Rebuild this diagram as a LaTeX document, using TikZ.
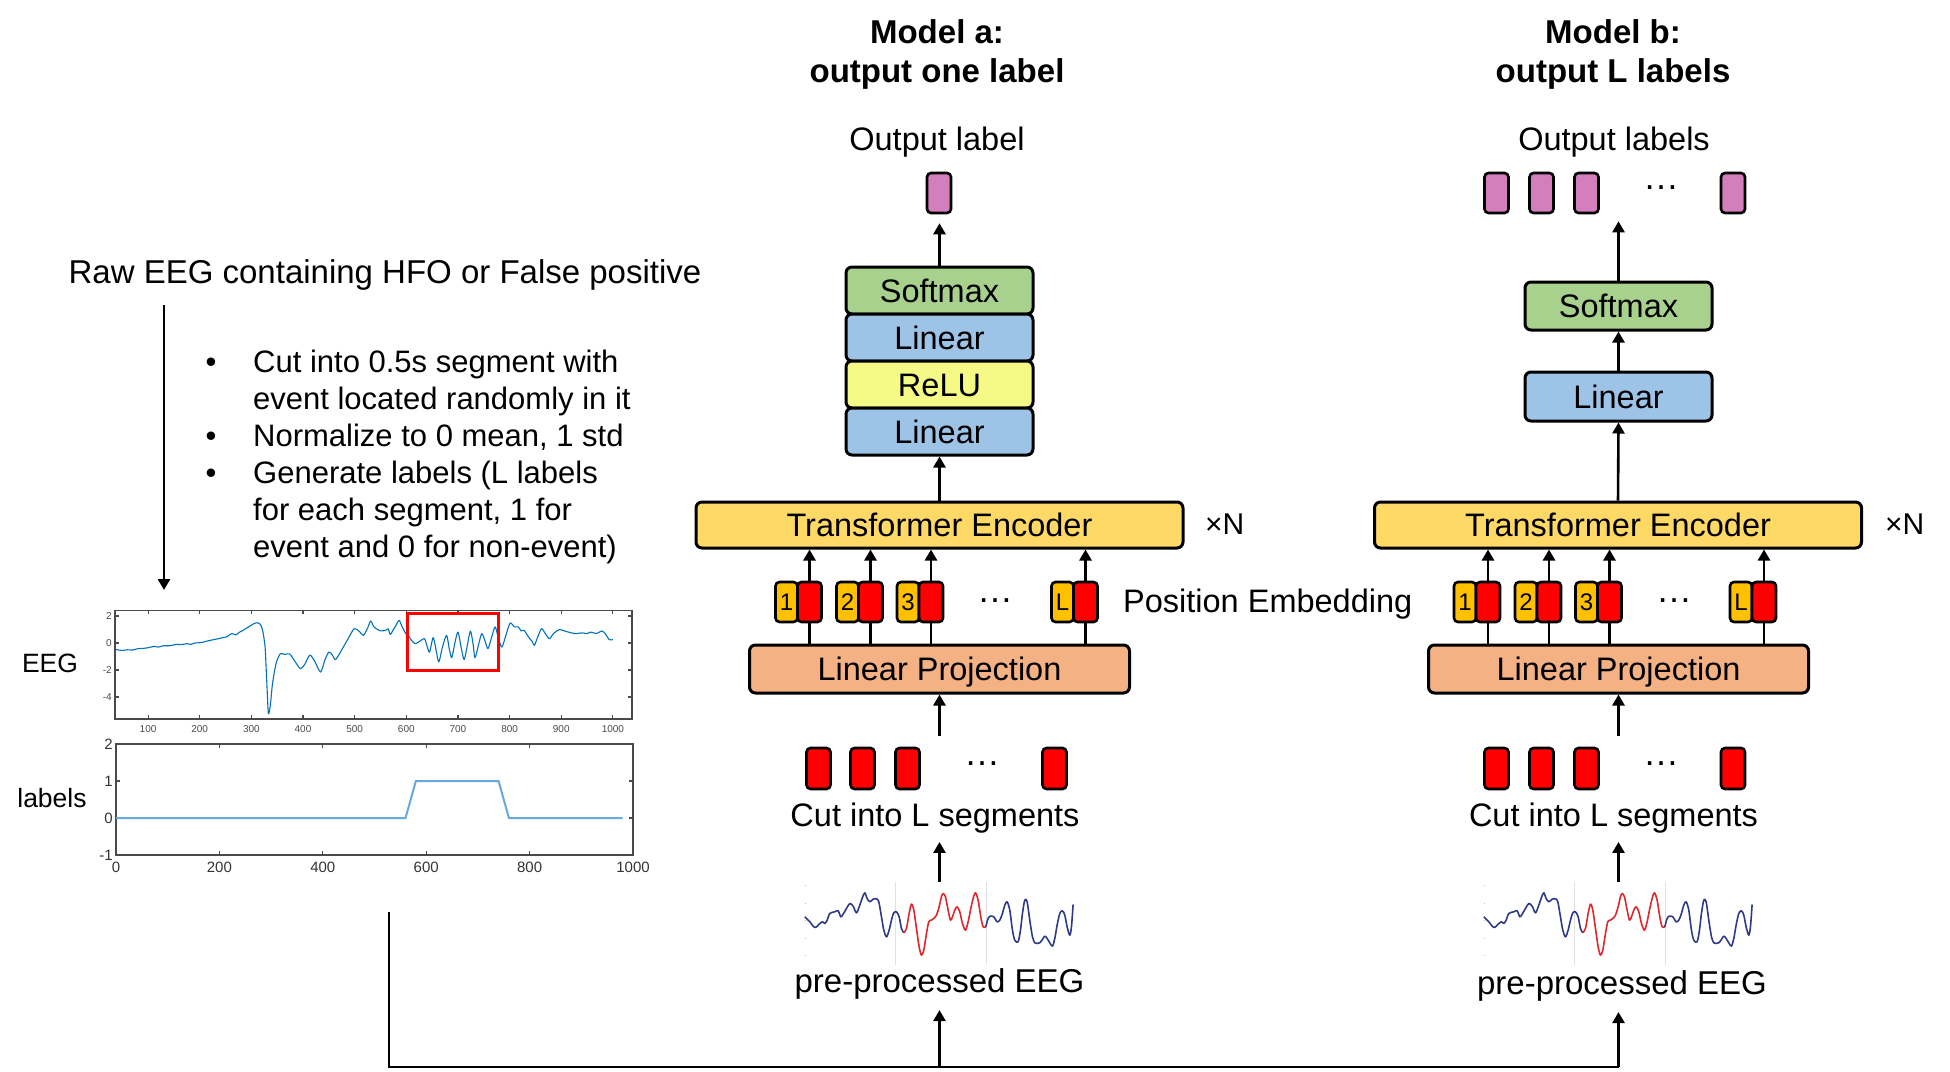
\documentclass[tikz,border=0pt]{standalone}
\usepackage{fontspec}
\setmainfont{Liberation Sans}
\usetikzlibrary{arrows.meta,backgrounds}
\newcommand\fsz[1]{\fontsize{#1}{#1}\selectfont}
\definecolor{cSoft}{HTML}{A9D18E}
\definecolor{cLin}{HTML}{9DC3E6}
\definecolor{cRelu}{HTML}{F5FA87}
\definecolor{cTE}{HTML}{FFD966}
\definecolor{cLP}{HTML}{F4B183}
\definecolor{cPink}{HTML}{D57EBD}
\definecolor{cTokY}{HTML}{FFC000}
\definecolor{cAx}{HTML}{4A4A4A}
\definecolor{cEEG}{HTML}{0072BD}
\definecolor{cLab}{HTML}{65A9DE}
\definecolor{cNavy}{HTML}{2E3A87}
\definecolor{cSnipRed}{HTML}{E3262B}
\tikzset{
  txt/.style={inner sep=0pt, text=black},
  blk/.style={draw, line width=3pt, rounded corners=6pt, inner sep=0pt, text height=23pt, text depth=0pt, font=\fsz{32.5}},
  tok/.style={draw, line width=2.6pt, rounded corners=4pt, inner sep=0pt, minimum height=40pt},
  seg/.style={draw, line width=2.6pt, rounded corners=4pt, inner sep=0pt, minimum width=24pt, minimum height=41pt, fill=red},
  pinkbox/.style={draw, line width=2.6pt, rounded corners=4pt, inner sep=0pt, minimum width=24pt, minimum height=40pt, fill=cPink},
  arr/.style={line width=2.6pt, -{Triangle[width=12pt,length=11pt]}},
  conn/.style={line width=2.8pt},
  ax/.style={draw=cAx, line width=1.1pt},
  eegsnip/.pic={
    \draw[black!12, line width=0.8pt] (90.7,0) -- (90.7,83) (181.7,0) -- (181.7,83);
    \foreach \yy in {3,21,38,56,73} \draw[black!25, line width=0.6pt] (0,\yy) -- (1.5,\yy);
    \begin{scope}[scale=0.3333, line width=1.6pt, line join=round]
      \draw[cNavy] plot[smooth, tension=0.5] coordinates {(0,105) (15,120) (25,133) (33,137) (43,127) (53,120) (60,125) (67,115) (75,95) (90,90) (100,87) (108,105) (115,97) (125,80) (135,65) (145,73) (155,93) (165,70) (173,47) (180,33) (187,50) (195,60) (205,52) (215,51) (222,60) (230,105) (237,145) (245,165) (253,145) (260,115) (267,93) (275,90) (283,105) (290,140) (297,153)};
      \draw[cSnipRed] plot[smooth, tension=0.5] coordinates {(297,153) (305,140) (313,95) (320,67) (327,85) (335,140) (343,195) (350,220) (357,205) (365,155) (372,120) (380,115) (387,110) (395,100) (403,75) (410,45) (415,35) (422,45) (430,85) (437,115) (443,105) (450,85) (457,75) (465,90) (473,125) (482,145) (490,120) (497,85) (505,50) (512,33) (520,55) (528,105) (535,135) (543,135)};
      \draw[cNavy] plot[smooth, tension=0.5] coordinates {(543,135) (550,110) (557,103) (567,105) (577,120) (585,115) (593,95) (600,70) (607,60) (615,85) (623,145) (630,175) (640,180) (647,145) (653,95) (660,55) (667,60) (675,115) (683,165) (690,183) (697,185) (705,183) (713,173) (720,163) (727,170) (735,183) (743,193) (750,170) (757,130) (765,95) (773,87) (780,100) (787,135) (795,160) (800,135) (805,68)};
    \end{scope}
  }
}
\begin{document}
\begin{tikzpicture}[x=1pt,y=-1pt]
\useasboundingbox (0,0) rectangle (1950,1071);

% ---------------- Left part ----------------
\node[txt, font=\fsz{33}, anchor=base] (raw) at (385,283) {Raw EEG containing HFO or False positive};
\coordinate (rawtop) at (164,305);
\coordinate (rawbot) at (164,590);
\draw[arr] (rawtop) -- (rawbot);

\node[txt, font=\fsz{31}, anchor=base] (d1) at (211,372) {•};
\node[txt, font=\fsz{31}, anchor=base west] (b1) at (253,372) {Cut into 0.5s segment with};
\node[txt, font=\fsz{31}, anchor=base west] (b2) at (253,409) {event located randomly in it};
\node[txt, font=\fsz{31}, anchor=base] (d2) at (211,446) {•};
\node[txt, font=\fsz{31}, anchor=base west] (b3) at (253,446) {Normalize to 0 mean, 1 std};
\node[txt, font=\fsz{31}, anchor=base] (d3) at (211,483) {•};
\node[txt, font=\fsz{31}, anchor=base west] (b4) at (253,483) {Generate labels (L labels};
\node[txt, font=\fsz{31}, anchor=base west] (b5) at (253,520) {for each segment, 1 for};
\node[txt, font=\fsz{31}, anchor=base west] (b6) at (253,557) {event and 0 for non-event)};

\node[txt, font=\fsz{26.5}, anchor=base] (eeglab) at (50,672) {EEG};
\node[txt, font=\fsz{26.5}, anchor=base] (lablab) at (52,807) {labels};

% top plot
\begin{scope}[shift={(96.41,643)}, x=0.5165pt, y=13.5pt]
  \draw[ax] (36,2.44) rectangle (1037,-5.63);
  \foreach \t in {100,200,...,1000} {
    \draw[ax] (\t,-5.63) -- ++(0pt,4pt);
    \draw[ax] (\t,2.44) -- ++(0pt,-4pt);
    \node[txt, text=cAx, font=\fsz{10}, anchor=north, yshift=-6pt] at (\t,-5.63) {\t};
  }
  \foreach \v in {2,0,-2,-4} {
    \draw[ax] (36,\v) -- ++(4pt,0pt);
    \draw[ax] (1037,\v) -- ++(-4pt,0pt);
    \node[txt, text=cAx, font=\fsz{10}, anchor=east, xshift=-3pt] at (36,\v) {\v};
  }
  \draw[cEEG, line width=1.1pt, line join=round] plot[smooth, tension=0.45] coordinates {(38,-0.49) (50,-0.55) (60,-0.5) (70,-0.52) (80,-0.42) (90,-0.4) (100,-0.35) (112,-0.25) (120,-0.3) (130,-0.2) (142,-0.2) (155,-0.1) (165,-0.12) (175,-0.05) (183,-0.1) (191,0) (198,0.02) (205,0.05) (215,0.15) (227,0.25) (236,0.32) (245,0.4) (252,0.45) (262,0.7) (270,0.6) (277,0.8) (284,0.94) (295,1.2) (305,1.43) (312,1.5) (318,1.35) (322,0.9) (325,0.2) (327,-0.54) (330,-3) (333,-5.23) (337,-4.5) (341,-3.0) (348,-1.5) (356,-0.8) (365,-0.85) (374,-0.8) (385,-1.4) (395,-1.9) (403,-1.6) (413,-0.9) (422,-1.3) (434,-2.15) (442,-1.3) (450,-0.67) (457,-0.9) (463,-1.23) (475,-0.5) (490,0.5) (499,1.06) (508,0.9) (517,0.57) (525,1.1) (531,1.63) (537,1.2) (542,1.06) (550,0.9) (560,0.94) (565,1.05) (569,0.64) (575,1.0) (580,1.3) (586,1.68) (592,1.2) (599,0.69) (605,0.5) (610,0.2) (617,-0.05) (625,0.1) (635,0.32) (640,-0.2) (645,-0.67) (652,0.4) (658,-0.6) (663,-1.4) (670,-0.3) (678,0.57) (683,-0.4) (688,-1.09) (694,0) (700,0.81) (706,-0.3) (712,-1.23) (718,-0.2) (724,0.89) (729,0) (733,-1.09) (740,-0.1) (746,0.69) (752,0.2) (758,-0.42) (765,0.4) (772,1.19) (778,0.4) (785,-0.3) (793,0.6) (801,1.48) (809,1.2) (817,1.19) (822,0.9) (828,0.94) (834,0.6) (839,0.32) (844,0.1) (848,-0.17) (855,0.5) (862,1.06) (869,0.7) (877,0.32) (885,0.7) (896,0.99) (910,0.85) (920,0.75) (928,0.69) (940,0.75) (950,0.7) (957,0.81) (968,0.7) (978,0.89) (985,0.7) (993,0.25) (1000,0.25)};
  \draw[red, line width=3pt] (603,2.22) rectangle (779,-2.0);
\end{scope}

% bottom plot
\begin{scope}[shift={(116,818)}, x=0.517pt, y=37pt]
  \draw[ax] (0,-1) rectangle (1000,2);
  \foreach \t in {0,200,...,1000} {
    \draw[ax] (\t,-1) -- ++(0pt,4pt);
    \draw[ax] (\t,2) -- ++(0pt,-4pt);
    \node[txt, text=cAx!70!black, font=\fsz{15}, anchor=north, yshift=-7pt] at (\t,-1) {\t};
  }
  \foreach \v in {-1,0,1,2} {
    \draw[ax] (0,\v) -- ++(4pt,0pt);
    \draw[ax] (1000,\v) -- ++(-4pt,0pt);
    \node[txt, text=cAx!70!black, font=\fsz{15}, anchor=east, xshift=-3pt] at (0,\v) {\v};
  }
  \draw[cLab, line width=2pt] (0,0) -- (560,0) -- (580,1) -- (740,1) -- (760,0) -- (980,0);
\end{scope}

% ---------------- Model a ----------------
\node[txt, font=\fsz{33}\bfseries, anchor=base] (tia1) at (937,43) {Model a:};
\node[txt, font=\fsz{33}\bfseries, anchor=base] (tia2) at (937,82) {output one label};
\node[txt, font=\fsz{32.5}, anchor=base] (ola) at (937,150) {Output label};
\node[pinkbox] (pa) at (939,193) {};

\node[blk, fill=cSoft, minimum width=187pt, minimum height=47pt] (smxa) at (939.5,290.5) {Softmax};
\node[blk, fill=cLin, minimum width=187pt, minimum height=47pt] (lina2) at (939.5,337.5) {Linear};
\node[blk, fill=cRelu, minimum width=187pt, minimum height=47pt] (relua) at (939.5,384.5) {ReLU};
\node[blk, fill=cLin, minimum width=187pt, minimum height=47pt] (lina1) at (939.5,431.5) {Linear};
\node[blk, fill=cTE, minimum width=487pt, minimum height=46pt] (tea) at (939.5,525) {Transformer Encoder};
\node[txt, font=\fsz{30}, anchor=base west] (xna) at (1205,534) {×N};
\node[blk, fill=cLP, minimum width=380pt, minimum height=48pt] (lpa) at (939.5,669) {Linear Projection};

\foreach \o/\t [count=\i] in {-130/1,-69/2,-8.5/3,146/L} {
  \node[tok, fill=cTokY, minimum width=22pt, font=\fsz{24}] (ya\i) at ({939.5+(\o)-23},602) {\t};
  \node[tok, fill=red, minimum width=24pt] (ra\i) at ({939.5+(\o)},602) {};
}
\node[txt, font=\fsz{36}, anchor=base] (dta) at (995,602) {…};
\node[txt, font=\fsz{32.5}, anchor=base west] (pe) at (1123,612) {Position Embedding};

\foreach \o [count=\i] in {-121,-77,-32,115} {
  \node[seg] (sa\i) at ({939.5+(\o)},768.5) {};
}
\node[txt, font=\fsz{36}, anchor=base] (dsa) at (982,765) {…};
\node[txt, font=\fsz{32.5}, anchor=base] (cuta) at (935,826) {Cut into L segments};
\node[inner sep=0pt, minimum width=269pt, minimum height=83pt] (eega) at (939.5,923.5) {};
\pic at (eega.north west) {eegsnip};
\node[txt, font=\fsz{33}, anchor=base] (ppa) at (939.5,992) {pre-processed EEG};

\draw[arr, shorten >=9pt] (smxa.north) -- (smxa.north |- pa.south);
\draw[arr] (tea.north) -- (lina1.south);
\coordinate (ina) at (939.5,736);
\draw[arr] (ina) -- (lpa.south);
\draw[arr, shorten >=9pt] (eega.north) -- (eega.north |- cuta.south);
\begin{pgfonlayer}{background}
  \foreach \i in {1,...,4} {\draw[arr] (lpa.north -| ra\i) -- (tea.south -| ra\i);}
\end{pgfonlayer}

% ---------------- Model b ----------------
\node[txt, font=\fsz{33}\bfseries, anchor=base] (tib1) at (1613,43) {Model b:};
\node[txt, font=\fsz{33}\bfseries, anchor=base] (tib2) at (1613,82) {output L labels};
\node[txt, font=\fsz{32.5}, anchor=base] (olb) at (1614,150) {Output labels};
\foreach \o [count=\i] in {-121.5,-76.5,-31.5,115} {
  \node[pinkbox] (pb\i) at ({1618+(\o)},193) {};
}
\node[txt, font=\fsz{36}, anchor=base] (dpb) at (1661,189) {…};

\node[blk, fill=cSoft, minimum width=187pt, minimum height=48pt] (smxb) at (1618.5,306) {Softmax};
\node[blk, fill=cLin, minimum width=187pt, minimum height=49pt] (linb) at (1618.5,396.5) {Linear};
\node[blk, fill=cTE, minimum width=487pt, minimum height=46pt] (teb) at (1618,525) {Transformer Encoder};
\node[txt, font=\fsz{30}, anchor=base west] (xnb) at (1885,534) {×N};
\node[blk, fill=cLP, minimum width=380pt, minimum height=48pt] (lpb) at (1618.5,669) {Linear Projection};

\foreach \o/\t [count=\i] in {-130/1,-69/2,-8.5/3,146/L} {
  \node[tok, fill=cTokY, minimum width=22pt, font=\fsz{24}] (yb\i) at ({1618+(\o)-23},602) {\t};
  \node[tok, fill=red, minimum width=24pt] (rb\i) at ({1618+(\o)},602) {};
}
\node[txt, font=\fsz{36}, anchor=base] (dtb) at (1674,602) {…};

\foreach \o [count=\i] in {-121.5,-76.5,-31.5,115} {
  \node[seg] (sb\i) at ({1618+(\o)},768.5) {};
}
\node[txt, font=\fsz{36}, anchor=base] (dsb) at (1661,765) {…};
\node[txt, font=\fsz{32.5}, anchor=base] (cutb) at (1613.5,826) {Cut into L segments};
\node[inner sep=0pt, minimum width=269pt, minimum height=83pt] (eegb) at (1618.5,923.5) {};
\pic at (eegb.north west) {eegsnip};
\node[txt, font=\fsz{33}, anchor=base] (ppb) at (1622,994) {pre-processed EEG};

\draw[arr, shorten >=7pt] (smxb.north) -- (smxb.north |- pb1.south);
\draw[arr] (linb.north) -- (smxb.south);
\draw[arr] (teb.north) -- (linb.south);
\coordinate (inb) at (1618.5,736);
\draw[arr] (inb) -- (lpb.south);
\draw[arr, shorten >=9pt] (eegb.north) -- (eegb.north |- cutb.south);
\begin{pgfonlayer}{background}
  \foreach \i in {1,...,4} {\draw[arr] (lpb.north -| rb\i) -- (teb.south -| rb\i);}
\end{pgfonlayer}

% ---------------- bottom connector ----------------
\coordinate (lt) at (389,912);
\coordinate (ja) at (939.5,1067);
\coordinate (jb) at (1618.5,1067);
\draw[conn] (lt) |- (jb);
\draw[arr, shorten >=11pt] (ja) -- (ja |- ppa.south);
\draw[arr, shorten >=11pt] (jb) -- (jb |- ppb.south);
\end{tikzpicture}
\end{document}
